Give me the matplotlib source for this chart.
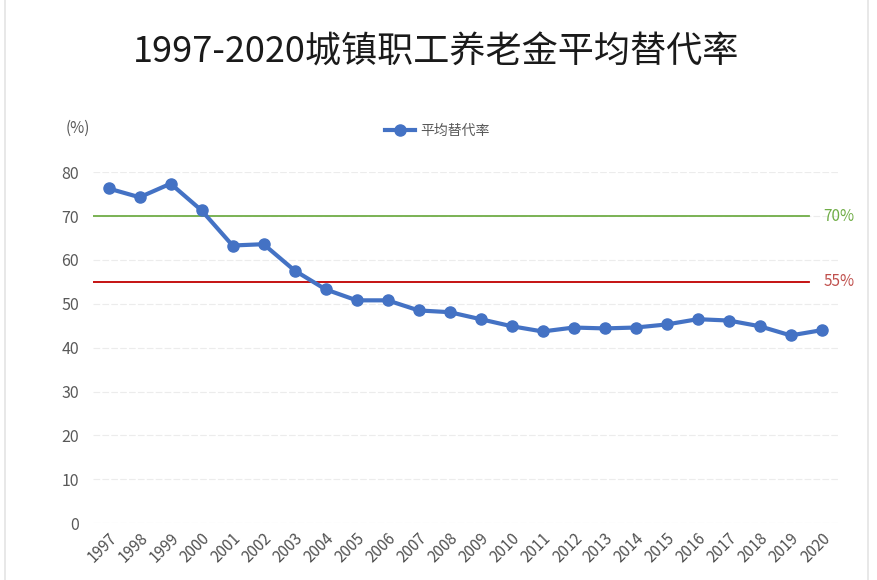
import numpy as np
import matplotlib
matplotlib.use("Agg")
import matplotlib.pyplot as plt

plt.rcParams['font.family'] = ['Noto Sans CJK SC', 'DejaVu Sans']

years = [str(y) for y in range(1997, 2021)]
rate = [76.3, 74.3, 77.4, 71.3, 63.3, 63.6, 57.6, 53.3, 50.8, 50.8, 48.5, 48.1,
        46.5, 44.9, 43.7, 44.6, 44.4, 44.6, 45.3, 46.5, 46.2, 44.9, 42.8, 44.0]
ref_levels = [70, 55]
ref_labels = ["70%", "55%"]
ref_colors = ["#70ad47", "#c00000"]
ref_text_colors = ["#70ad47", "#c0504d"]

fig = plt.figure(figsize=(8.78, 5.8), dpi=100)
ax = fig.add_axes([0.106, 0.098, 0.851, 0.605])

x = np.arange(len(years))
ax.plot(x, rate, "-o", color="#4472c4", lw=3, ms=8, label="平均替代率", zorder=5)

for lv, lab, c, tc in zip(ref_levels, ref_labels, ref_colors, ref_text_colors):
    ax.plot([-0.5, 22.6], [lv, lv], color=c, lw=1.3, zorder=3)
    ax.text(23.05, lv, lab, color=tc, fontsize=11, va="center", ha="left")

ax.set_xlim(-0.5, 23.6)
ax.set_ylim(0, 80)
ax.set_yticks(np.arange(0, 81, 10))
ax.set_xticks(x)
ax.set_xticklabels(years, rotation=45, ha="right", rotation_mode="anchor")
ax.tick_params(axis="both", length=0, colors="#595959", labelsize=11.5)
ax.tick_params(axis="x", pad=5, labelsize=11, colors="#505050")
ax.tick_params(axis="y", pad=10)
ax.grid(axis="y", color="#ececec", lw=0.8, ls=(0, (6, 2)))
ax.set_axisbelow(True)
for s in ax.spines.values():
    s.set_visible(False)

fig.text(0.497, 0.91, "1997-2020城镇职工养老金平均替代率", ha="center", va="center",
         fontsize=26, color="#1a1a1a")
fig.text(0.089, 0.779, "(%)", ha="center", va="center", fontsize=11, color="#595959")

leg = ax.legend(loc="center", bbox_to_anchor=(0.498, 0.774), bbox_transform=fig.transFigure,
                frameon=False, fontsize=10, handlelength=2.2, handletextpad=0.4)
for t in leg.get_texts():
    t.set_color("#595959")

fig.patches.append(plt.Rectangle((0.006, -0.01), 0.983, 1.02, transform=fig.transFigure,
                                 fill=False, edgecolor="#e4e4e4", lw=1.2))

fig.savefig("out.png", dpi=100)
